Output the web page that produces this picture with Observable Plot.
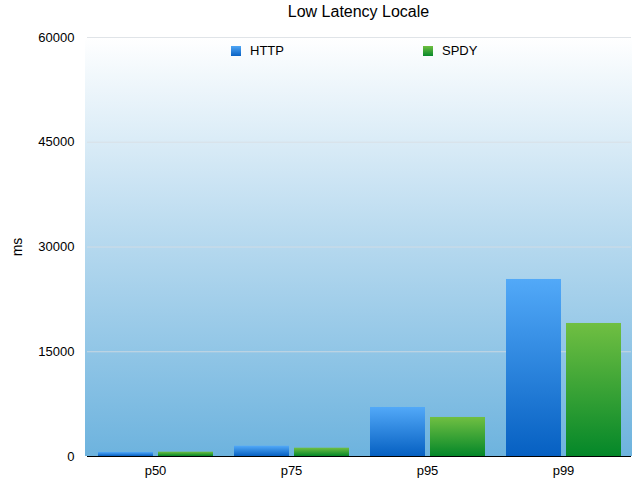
<!DOCTYPE html>
<html>
<head>
<meta charset="utf-8">
<script src="https://cdn.jsdelivr.net/npm/d3@7"></script>
<script src="https://cdn.jsdelivr.net/npm/@observablehq/plot@0.6"></script>
<style>
  body { margin: 0; background: #fff; font-family: "Liberation Sans", Arial, sans-serif; }
  #wrap { position: relative; width: 640px; height: 480px; }
  #bg { position: absolute; left: 85px; top: 37px; width: 547px; height: 419px; background: linear-gradient(#ffffff 0%, #bcdcf0 45%, #6db3de 100%); }
  #chart { position: absolute; left: 0; top: 0; }
  #title { position: absolute; left: 85px; width: 547px; top: 3px; text-align: center; font-size: 16px; color: #000; }
  .leg { position: absolute; top: 43px; font-size: 13px; color: #000; display: flex; align-items: center; }
  .sw { width: 10px; height: 10px; margin-right: 9px; }
</style>
</head>
<body>
<div id="wrap">
  <div id="bg"></div>
  <div id="chart"></div>
  <div id="title">Low Latency Locale</div>
  <div class="leg" style="left:231px"><div class="sw" style="background:linear-gradient(#4fa6f5,#0a62c4)"></div><span>HTTP</span></div>
  <div class="leg" style="left:423px"><div class="sw" style="background:linear-gradient(#6fbf40,#08892b)"></div><span>SPDY</span></div>
</div>
<script>
const categories = ["p50", "p75", "p95", "p99"];
const series = ["HTTP", "SPDY"];
const httpValues = [580, 1470, 7020, 25350];
const spdyValues = [620, 1190, 5590, 19050];
const yTicks = [0, 15000, 30000, 45000, 60000];

const data = [];
categories.forEach((c, i) => {
  data.push({cat: c, series: "HTTP", value: httpValues[i]});
  data.push({cat: c, series: "SPDY", value: spdyValues[i]});
});

const chart = Plot.plot({
  width: 640,
  height: 480,
  marginLeft: 85,
  marginRight: 8,
  marginTop: 37,
  marginBottom: 24,
  style: {fontFamily: "Liberation Sans, Arial, sans-serif", fontSize: "13px", color: "#000", background: "transparent"},
  fx: {domain: categories, padding: 0, axis: "bottom", label: null, tickSize: 0, tickPadding: 9},
  x: {domain: series, axis: null, paddingInner: 5 / 60, paddingOuter: 0.17},
  y: {domain: [0, 60000], label: null, axis: null},
  marks: [
    Plot.gridY(yTicks, {stroke: "#d8dde2", strokeOpacity: 0.8}),
    Plot.axisY(yTicks, {tickSize: 0, tickPadding: 13, label: null, tickFormat: d => String(d)}),
    Plot.barY(data.filter(d => d.series === "HTTP"), {fx: "cat", x: "series", y: "value", fill: "url(#gHTTP)"}),
    Plot.barY(data.filter(d => d.series === "SPDY"), {fx: "cat", x: "series", y: "value", fill: "url(#gSPDY)"}),
    Plot.ruleY([0], {stroke: "#000", strokeWidth: 1})
  ]
});

const svgNS = "http://www.w3.org/2000/svg";
const defs = document.createElementNS(svgNS, "defs");
function grad(id, stops) {
  const g = document.createElementNS(svgNS, "linearGradient");
  g.setAttribute("id", id);
  g.setAttribute("x1", "0"); g.setAttribute("y1", "0");
  g.setAttribute("x2", "0"); g.setAttribute("y2", "1");
  stops.forEach(([o, c]) => {
    const s = document.createElementNS(svgNS, "stop");
    s.setAttribute("offset", o);
    s.setAttribute("stop-color", c);
    g.appendChild(s);
  });
  defs.appendChild(g);
}
grad("gHTTP", [[0, "#52a9f8"], [1, "#0660c2"]]);
grad("gSPDY", [[0, "#70bf42"], [1, "#048729"]]);
chart.insertBefore(defs, chart.firstChild);
document.getElementById("chart").appendChild(chart);

// y-axis label
const lab = document.createElementNS(svgNS, "text");
lab.setAttribute("transform", "translate(22,247) rotate(-90)");
lab.setAttribute("text-anchor", "middle");
lab.setAttribute("font-size", "14");
lab.textContent = "ms";
chart.appendChild(lab);
</script>
</body>
</html>
